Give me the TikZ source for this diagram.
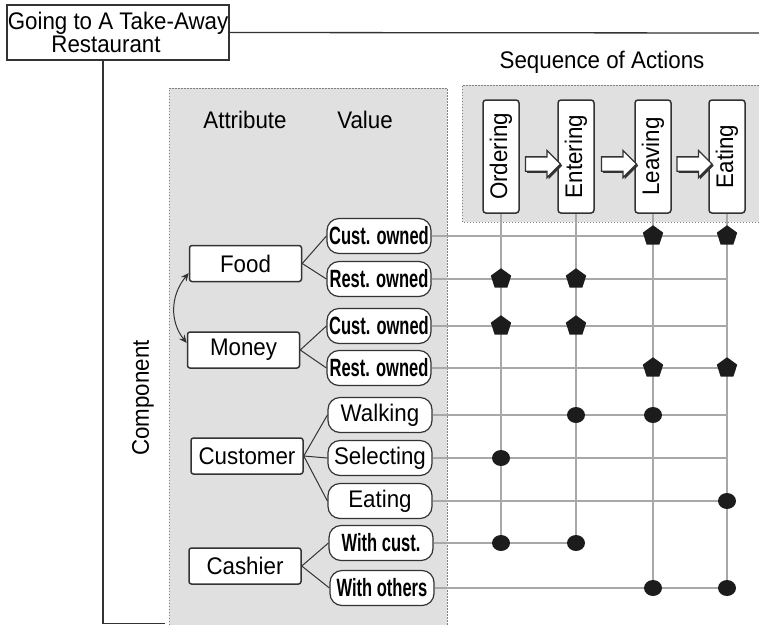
\documentclass[tikz,border=0pt]{standalone}
\usepackage{fontspec}
\setmainfont{Liberation Sans}[FakeStretch=0.93]
\newfontfamily\narrowfont{Liberation Sans}[FakeStretch=0.66]
\usetikzlibrary{shapes.geometric,shapes.arrows,shadows,arrows.meta,calc}

\definecolor{ink}{HTML}{333333}
\definecolor{panelgray}{HTML}{E0E0E0}
\definecolor{gridgray}{HTML}{A8A8A8}
\definecolor{dotblack}{HTML}{1C1C1C}

\begin{document}
\begin{tikzpicture}[x=1pt,y=-1pt,
  font=\fontsize{24}{24}\selectfont,
  frame/.style={draw=ink,line width=1.3pt},
  panelfill/.style={fill=panelgray},
  paneledge/.style={draw=black!50,line width=0.6pt,dash pattern=on 1.5pt off 1.5pt},
  titlebox/.style={draw=ink,line width=1.5pt,fill=white,minimum width=222pt,
    minimum height=55pt,inner sep=0pt,align=center},
  actbox/.style={draw=ink,line width=1.5pt,fill=white,rounded corners=3pt,rotate=90,
    minimum width=113pt,minimum height=36pt,inner sep=0pt},
  attrbox/.style={draw=ink,line width=1.5pt,fill=white,rounded corners=2.5pt,
    minimum width=112pt,minimum height=36pt,inner sep=0pt},
  valbox/.style={draw=ink,line width=1.2pt,fill=white,rounded corners=12pt,
    minimum width=104pt,minimum height=35pt,inner sep=0pt},
  narrowtext/.style={font=\fontsize{25}{25}\narrowfont\bfseries},
  blockarrow/.style={single arrow,draw=ink,line width=1.3pt,fill=white,
    minimum height=35pt,inner sep=6.5pt,single arrow head extend=6.5pt,
    drop shadow={shadow xshift=1.6pt,shadow yshift=-1.6pt,fill=ink,opacity=1}},
  branch/.style={draw=ink,line width=1pt},
  gridline/.style={draw=gridgray,line width=1.2pt},
  pent/.style={regular polygon,regular polygon sides=5,minimum size=21.5pt,
    inner sep=0pt,fill=dotblack},
  dot/.style={ellipse,minimum width=18pt,minimum height=16pt,inner sep=0pt,fill=dotblack},
  link/.style={draw=ink,line width=1pt,{Stealth[length=8pt,width=7pt]}-{Stealth[length=8pt,width=7pt]}}
]
\useasboundingbox (0,0) rectangle (759,625);

% shaded panels
\fill[panelfill] (169,88) rectangle (447,625);
\draw[paneledge] (169,625) -- (169,88) -- (447,88) -- (447,625);
\fill[panelfill] (462,85) rectangle (759,222);
\draw[paneledge] (759,222) -- (462,222) -- (462,85) -- (759,85);

% title and frame lines
\node[titlebox] (title) at (118,32.5) {Going to A Take-Away\\[-1pt]Restaurant\hspace*{24pt}};
\coordinate (frameend) at (759,33);
\draw[frame] (title.east) -- (frameend);
\draw[frame] ([xshift=-15pt]title.south) -- ++(0,563) -- ++(62,0);

% headings
\node (hattr) at (245,120) {Attribute};
\node (hval) at (365,120) {Value};
\node (hseq) at (602,62) {Sequence of Actions};
\node[rotate=90] (hcomp) at (143,398) {Component};

% sequence of actions
\node[actbox] (ord) at (501,156.5) {Ordering};
\node[actbox] (ent) at (576,156.5) {Entering};
\node[actbox] (lea) at (653,156.5) {Leaving};
\node[actbox] (eat) at (727,156.5) {Eating};
\node[blockarrow] (a1) at ($(ord.south)!0.5!(ent.north)+(1,7.5)$) {};
\node[blockarrow] (a2) at ($(ent.south)!0.5!(lea.north)+(1,7.5)$) {};
\node[blockarrow] (a3) at ($(lea.south)!0.5!(eat.north)+(1,7.5)$) {};

% attributes
\node[attrbox] (food) at (245.5,263.5) {Food};
\node[attrbox] (money) at (243.5,350) {Money};
\node[attrbox] (cust) at (247,456) {Customer};
\node[attrbox] (cash) at (245,566) {Cashier};

% values
\node[valbox,narrowtext] (fc) at (379,236) {Cust. owned};
\node[valbox,narrowtext] (fr) at (379,279) {Rest. owned};
\node[valbox,narrowtext] (mc) at (379,326) {Cust. owned};
\node[valbox,narrowtext] (mr) at (379,368) {Rest. owned};
\node[valbox] (cw) at (380,415) {Walking};
\node[valbox] (cs) at (380,458) {Selecting};
\node[valbox] (ce) at (380,501) {Eating};
\node[valbox,narrowtext] (kc) at (381,543) {With cust.};
\node[valbox,narrowtext] (ko) at (382,588) {With others};

% attribute to value branches
\draw[branch] (food.east) -- (fc.west);
\draw[branch] (food.east) -- (fr.west);
\draw[branch] (money.east) -- (mc.west);
\draw[branch] (money.east) -- (mr.west);
\draw[branch] (cust.east) -- (cw.west);
\draw[branch] (cust.east) -- (cs.west);
\draw[branch] (cust.east) -- (ce.west);
\draw[branch] (cash.east) -- (kc.west);
\draw[branch] (cash.east) -- (ko.west);

\draw[link] ([yshift=-9.5pt]food.west) .. controls (170,296) and (170,322) .. ([yshift=7pt]money.west);

% grid of rows and columns
\foreach \r in {fc,fr,mc,mr,cw,cs,ce,ko}
  \draw[gridline] (\r.east) -- (\r.east -| eat);
\draw[gridline] (kc.east) -- (kc.east -| ent);
\draw[gridline] (ord.west) -- (ord |- kc);
\draw[gridline] (ent.west) -- (ent |- kc);
\draw[gridline] (lea.west) -- (lea |- ko);
\draw[gridline] (eat.west) -- (eat |- ko);

% markers
\foreach \c/\r in {lea/fc,eat/fc,ord/fr,ent/fr,ord/mc,ent/mc,lea/mr,eat/mr}
  \node[pent] (p-\c-\r) at (\c |- \r) {};
\foreach \c/\r in {ent/cw,lea/cw,ord/cs,eat/ce,ord/kc,ent/kc,lea/ko,eat/ko}
  \node[dot] (d-\c-\r) at (\c |- \r) {};
\end{tikzpicture}
\end{document}
